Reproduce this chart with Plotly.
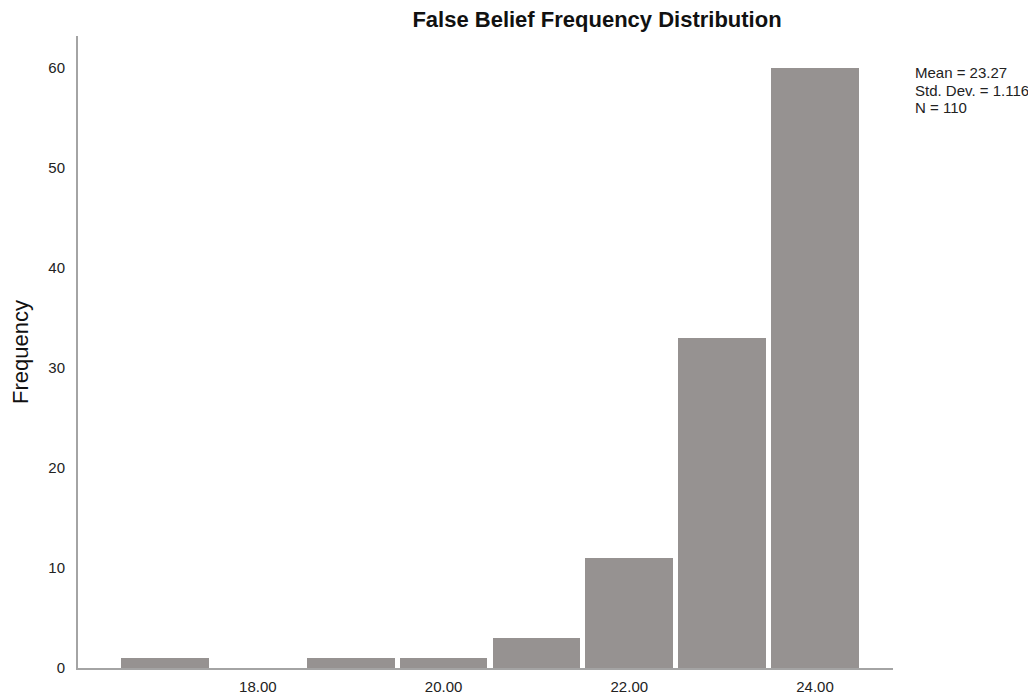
import plotly.graph_objects as go

scores = [17, 18, 19, 20, 21, 22, 23, 24]
frequency = [1, 0, 1, 1, 3, 11, 33, 60]
tick_vals = [18, 20, 22, 24]
tick_text = ["18.00", "20.00", "22.00", "24.00"]
stats_lines = ["Mean = 23.27", "Std. Dev. = 1.116", "N = 110"]

FONT = "Liberation Sans, Arial, sans-serif"
AXIS = "#a4a4a4"

fig = go.Figure()
fig.add_trace(go.Bar(
    x=scores, y=frequency, width=0.945,
    marker=dict(color="#969291", line=dict(width=0)),
    hoverinfo="x+y", showlegend=False,
))

# page body has an 8px margin, so the figure is placed 8px in from the top-left
OFF = 8
W, H = 1036, 694
L, T = 78 - OFF, 36 - OFF
R = W - (893 - OFF)
B = H - (668 - OFF)
plot_w = W - L - R
plot_h = H - T - B

fig.update_layout(
    width=W, height=H,
    margin=dict(l=L, r=R, t=T, b=B, autoexpand=False),
    paper_bgcolor="white", plot_bgcolor="white",
    font=dict(family=FONT, color="#222222", size=15),
    title=dict(
        text="<b>False Belief Frequency Distribution</b>",
        font=dict(family=FONT, size=22, color="#111111"),
        x=(597 - OFF - L) / plot_w, xref="paper", xanchor="center",
        y=1 - (19 - OFF) / H, yref="container", yanchor="middle",
    ),
    xaxis=dict(
        range=[16.063, 24.84], tickvals=tick_vals, ticktext=tick_text,
        showline=True, linecolor=AXIS, linewidth=2, showgrid=False,
        zeroline=False, ticks="", tickfont=dict(size=15, color="#222222"),
        ticklabelstandoff=4,
    ),
    yaxis=dict(
        range=[0, 63.2], tickvals=[0, 10, 20, 30, 40, 50, 60],
        showline=True, linecolor=AXIS, linewidth=2, showgrid=False,
        zeroline=False, ticks="", tickfont=dict(size=15, color="#222222"),
        ticklabelstandoff=8,
        title=dict(text="Frequency", font=dict(size=22, color="#111111"), standoff=15),
    ),
    bargap=0,
)

for i, line in enumerate(stats_lines):
    ypix = 73 + 17 * i - OFF
    fig.add_annotation(
        text=line, showarrow=False, xref="paper", yref="paper",
        x=(913 - OFF - L) / plot_w, xanchor="left",
        y=(H - B - ypix) / plot_h, yanchor="middle",
        font=dict(size=15, color="#222222", family=FONT),
    )

fig.write_html("out.html")
